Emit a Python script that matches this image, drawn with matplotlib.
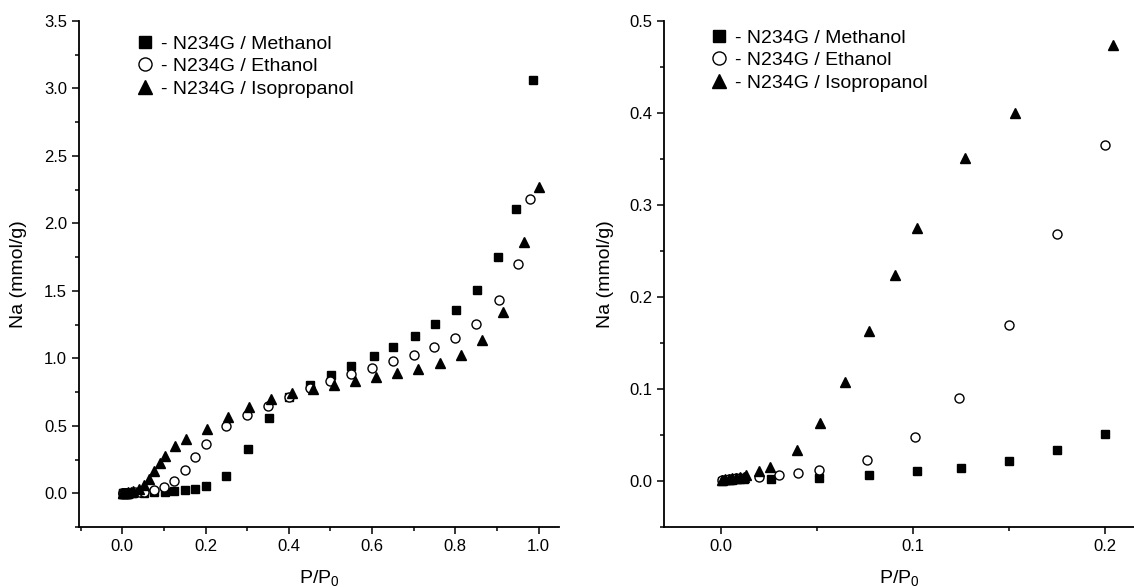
import matplotlib

matplotlib.use("Agg")
import matplotlib.pyplot as plt
from matplotlib.ticker import MultipleLocator, FormatStrFormatter

plt.rcParams["font.family"] = ["Liberation Sans", "DejaVu Sans"]
plt.rcParams["mathtext.default"] = "regular"

# --- data (P/P0 vs Na, mmol/g) ---
low_x = [0.0005, 0.002, 0.004, 0.006, 0.008, 0.010, 0.012]

meth_x = low_x + [0.026, 0.051, 0.077, 0.102, 0.125, 0.150, 0.175, 0.200,
                  0.250, 0.301, 0.352, 0.401, 0.452, 0.502, 0.550, 0.604,
                  0.651, 0.703, 0.751, 0.802, 0.853, 0.903, 0.946, 0.986]
meth_y = [0.0005, 0.001, 0.0012, 0.0015, 0.0017, 0.002, 0.002,
          0.0025, 0.0036, 0.0065, 0.0105, 0.0145, 0.0217, 0.0334, 0.051,
          0.131, 0.326, 0.560, 0.713, 0.800, 0.873, 0.942, 1.014,
          1.083, 1.162, 1.251, 1.360, 1.508, 1.754, 2.110, 3.060]

eth_x = low_x + [0.020, 0.030, 0.040, 0.051, 0.076, 0.101, 0.124, 0.150,
                 0.175, 0.200, 0.250, 0.300, 0.350, 0.400, 0.452, 0.500,
                 0.550, 0.600, 0.650, 0.700, 0.749, 0.800, 0.850, 0.904,
                 0.950, 0.980]
eth_y = [0.001, 0.0015, 0.002, 0.0025, 0.003, 0.0033, 0.0037,
         0.0043, 0.006, 0.009, 0.0123, 0.023, 0.048, 0.0906, 0.170,
         0.269, 0.365, 0.498, 0.583, 0.646, 0.713, 0.779, 0.831,
         0.881, 0.930, 0.977, 1.027, 1.083, 1.152, 1.256, 1.429,
         1.700, 2.180]

iso_x = low_x + [0.0133, 0.020, 0.0258, 0.0398, 0.0516, 0.0648, 0.077, 0.0904,
                 0.102, 0.127, 0.153, 0.204, 0.254, 0.305, 0.356, 0.407,
                 0.457, 0.508, 0.560, 0.610, 0.660, 0.711, 0.763, 0.814,
                 0.863, 0.914, 0.965, 1.000]
iso_y = [0.001, 0.0018, 0.0025, 0.003, 0.0035, 0.004, 0.0045,
         0.0065, 0.011, 0.0152, 0.034, 0.063, 0.108, 0.163, 0.224,
         0.275, 0.351, 0.400, 0.474, 0.565, 0.639, 0.698, 0.742,
         0.772, 0.805, 0.829, 0.861, 0.888, 0.923, 0.964, 1.027,
         1.133, 1.340, 1.860, 2.270]

labels = ["- N234G / Methanol", "- N234G / Ethanol", "- N234G / Isopropanol"]

W, H = 1134, 587
fig = plt.figure(figsize=(W / 100, H / 100), dpi=100)
ax1 = fig.add_axes([79 / W, 1 - 527 / H, 480 / W, 506 / H])
ax2 = fig.add_axes([664 / W, 1 - 527 / H, 470 / W, 506 / H])


def draw(ax, legend_px, ylab_x):
    ax.plot(meth_x, meth_y, "s", color="black", ms=6, label=labels[0])
    ax.plot(eth_x, eth_y, "o", mfc="white", mec="black", mew=1.0, ms=6.5,
            label=labels[1])
    ax.plot(iso_x, iso_y, "^", color="black", ms=7, label=labels[2])
    for s in ("top", "right"):
        ax.spines[s].set_visible(False)
    for s in ("left", "bottom"):
        ax.spines[s].set_linewidth(1.3)
    ax.tick_params(which="major", direction="out", length=5, width=1.1,
                   labelsize=12)
    ax.tick_params(which="minor", direction="out", length=3, width=1.1)
    ax.set_ylabel("Na (mmol/g)", fontsize=14)
    ax.set_xlabel("P/P$_0$", fontsize=14)
    ax.yaxis.set_label_coords(ylab_x, 0.5)
    ax.xaxis.set_label_coords(0.5, -0.082)
    ax.legend(loc="upper left",
              bbox_to_anchor=(legend_px[0] / W, 1 - legend_px[1] / H),
              bbox_transform=fig.transFigure, frameon=False,
              fontsize=14, markerscale=1.45, handlelength=0.8,
              handletextpad=0.45, labelspacing=0.25, borderaxespad=0,
              borderpad=0)


draw(ax1, (137, 35), -0.108)
ax1.set_xlim(-0.104, 1.049)
ax1.set_ylim(-0.25, 3.5)
ax1.xaxis.set_major_locator(MultipleLocator(0.2))
ax1.xaxis.set_minor_locator(MultipleLocator(0.1))
ax1.yaxis.set_major_locator(MultipleLocator(0.5))
ax1.yaxis.set_minor_locator(MultipleLocator(0.25))
ax1.xaxis.set_major_formatter(FormatStrFormatter("%.1f"))
ax1.yaxis.set_major_formatter(FormatStrFormatter("%.1f"))

draw(ax2, (711, 29), -0.106)
ax2.set_xlim(-0.0296, 0.215)
ax2.set_ylim(-0.05, 0.5)
ax2.xaxis.set_major_locator(MultipleLocator(0.1))
ax2.xaxis.set_minor_locator(MultipleLocator(0.05))
ax2.yaxis.set_major_locator(MultipleLocator(0.1))
ax2.yaxis.set_minor_locator(MultipleLocator(0.05))
ax2.xaxis.set_major_formatter(FormatStrFormatter("%.1f"))
ax2.yaxis.set_major_formatter(FormatStrFormatter("%.1f"))

fig.savefig("out.png", dpi=100)
plt.close(fig)
